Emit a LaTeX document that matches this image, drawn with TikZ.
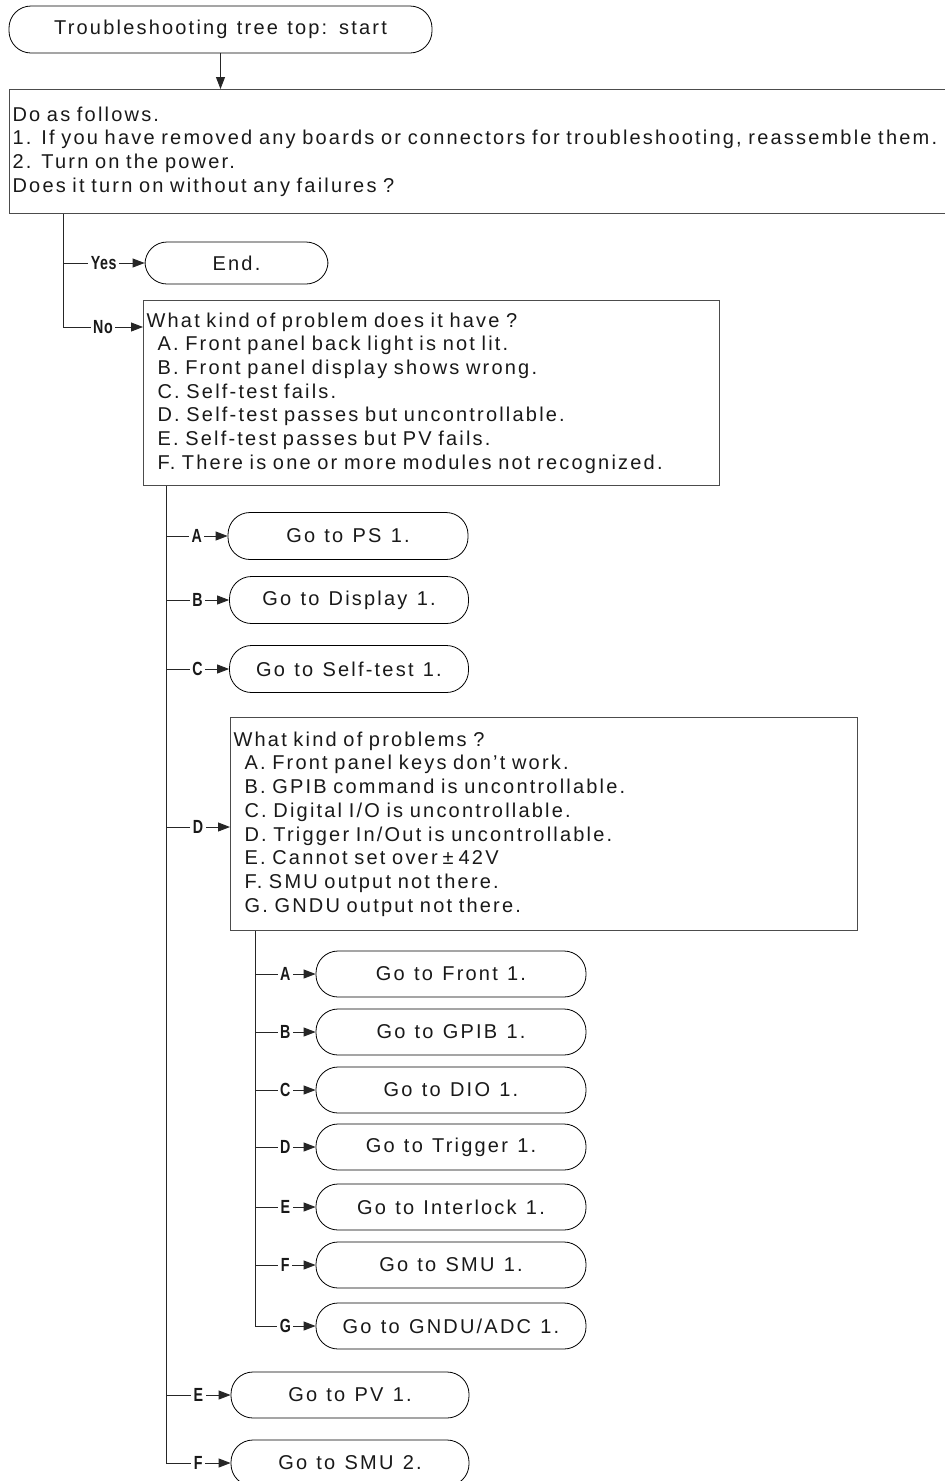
\documentclass[tikz,border=0pt]{standalone}
\usepackage{graphicx}
\usepackage{fontspec}
\setmainfont{Liberation Sans}[LetterSpace=11,WordSpace=1.2]
\newfontfamily\lblfont{Liberation Sans}[LetterSpace=4]
\usetikzlibrary{arrows.meta}
\begin{document}
\begin{tikzpicture}[x=1pt,y=-1pt,
  txt/.style={font=\fontsize{20}{23.7}\selectfont, text=black!90},
  qbox/.style={draw=black!70, line width=1.1pt, rectangle, align=left,
    anchor=north west, inner xsep=3pt, inner ysep=0pt, txt},
  term/.style={draw=black, line width=0.8pt, rectangle, rounded corners=22pt,
    inner sep=0pt, txt},
  conn/.style={draw=black!85, line width=0.9pt},
  arr/.style={conn, -{Triangle[length=12pt,width=9pt]}},
  lbl/.style={fill=white, inner xsep=2.5pt, inner ysep=1pt,
    font=\lblfont\bfseries\fontsize{19}{19}\selectfont, text=black!90}
]
\useasboundingbox (0,0) rectangle (945,1481);
\fill[white] (0,0) rectangle (945,1481);

% start
\node[term, minimum width=423pt, minimum height=47pt] (start) at (220.5,29.5)
  {Troubleshooting tree top: start};

% first question box
\node[qbox, text width=940pt, minimum height=124pt] (q1) at (9,89)
  {Do as follows.\\
   1. If you have removed any boards or connectors for troubleshooting, reassemble them.\\
   2. Turn on the power.\\
   Does it turn on without any failures ?};
\draw[arr] (start.south) -- (start.south |- q1.north);

% End
\node[term, minimum width=183pt, minimum height=42pt] (end) at (236.5,263) {End.};

% second question box
\node[qbox, text width=570pt, minimum height=185pt] (q2) at (143,300)
  {What kind of problem does it have ?\\
   \hspace*{11pt}A. Front panel back light is not lit.\\
   \hspace*{11pt}B. Front panel display shows wrong.\\
   \hspace*{11pt}C. Self-test fails.\\
   \hspace*{11pt}D. Self-test passes but uncontrollable.\\
   \hspace*{11pt}E. Self-test passes but PV fails.\\
   \hspace*{11pt}F. There is one or more modules not recognized.};
\coordinate (q2in) at (143,327);

\coordinate (c1) at (63,0);
\draw[conn] (c1 |- q1.south) -- (c1 |- q2in);
\draw[arr] (c1 |- end.west) -- node[lbl] (lyes) {\scalebox{0.75}[1]{Yes}} (end.west);
\draw[arr] (c1 |- q2in) -- node[lbl] (lno) {\scalebox{0.75}[1]{No}} (q2in);

% level 2 terminators
\node[term, minimum width=240pt, minimum height=47pt] (ps) at (348,536) {Go to PS 1.};
\node[term, minimum width=239pt, minimum height=47pt] (disp) at (349,600) {Go to Display 1.};
\node[term, minimum width=239pt, minimum height=47pt] (self) at (349,669) {Go to Self-test 1.};

% third question box
\node[qbox, text width=621pt, minimum height=213pt] (q3) at (230,717)
  {What kind of problems ?\\
   \hspace*{11pt}A. Front panel keys don't work.\\
   \hspace*{11pt}B. GPIB command is uncontrollable.\\
   \hspace*{11pt}C. Digital I/O is uncontrollable.\\
   \hspace*{11pt}D. Trigger In/Out is uncontrollable.\\
   \hspace*{11pt}E. Cannot set over\hspace{5pt}±\hspace{5pt}42V\\
   \hspace*{11pt}F. SMU output not there.\\
   \hspace*{11pt}G. GNDU output not there.};
\coordinate (q3in) at (230,827);

\node[term, minimum width=238pt, minimum height=46pt] (pv) at (350,1395) {Go to PV 1.};
\node[term, minimum width=238pt, minimum height=46pt] (smu2) at (350,1463) {Go to SMU 2.};

\coordinate (c2) at (166,0);
\draw[conn] (c2 |- q2.south) -- (c2 |- smu2.west);
\draw[arr] (c2 |- ps.west) -- node[lbl] (la) {\scalebox{0.75}[1]{A}} (ps.west);
\draw[arr] (c2 |- disp.west) -- node[lbl] (lb) {\scalebox{0.75}[1]{B}} (disp.west);
\draw[arr] (c2 |- self.west) -- node[lbl] (lc) {\scalebox{0.75}[1]{C}} (self.west);
\draw[arr] (c2 |- q3in) -- node[lbl] (ld) {\scalebox{0.75}[1]{D}} (q3in);
\draw[arr] (c2 |- pv.west) -- node[lbl] (le) {\scalebox{0.75}[1]{E}} (pv.west);
\draw[arr] (c2 |- smu2.west) -- node[lbl] (lf) {\scalebox{0.75}[1]{F}} (smu2.west);

% level 3 terminators
\node[term, minimum width=270pt, minimum height=46pt] (front) at (451,974) {Go to Front 1.};
\node[term, minimum width=270pt, minimum height=46pt] (gpib) at (451,1032) {Go to GPIB 1.};
\node[term, minimum width=270pt, minimum height=46pt] (dio) at (451,1090) {Go to DIO 1.};
\node[term, minimum width=270pt, minimum height=46pt] (trig) at (451,1147) {Go to Trigger 1.};
\node[term, minimum width=270pt, minimum height=46pt] (intl) at (451,1207) {Go to Interlock 1.};
\node[term, minimum width=270pt, minimum height=46pt] (smu1) at (451,1265) {Go to SMU 1.};
\node[term, minimum width=270pt, minimum height=46pt] (gndu) at (451,1326) {Go to GNDU/ADC 1.};

\coordinate (c3) at (255,0);
\draw[conn] (c3 |- q3.south) -- (c3 |- gndu.west);
\draw[arr] (c3 |- front.west) -- node[lbl] (l3a) {\scalebox{0.75}[1]{A}} (front.west);
\draw[arr] (c3 |- gpib.west) -- node[lbl] (l3b) {\scalebox{0.75}[1]{B}} (gpib.west);
\draw[arr] (c3 |- dio.west) -- node[lbl] (l3c) {\scalebox{0.75}[1]{C}} (dio.west);
\draw[arr] (c3 |- trig.west) -- node[lbl] (l3d) {\scalebox{0.75}[1]{D}} (trig.west);
\draw[arr] (c3 |- intl.west) -- node[lbl] (l3e) {\scalebox{0.75}[1]{E}} (intl.west);
\draw[arr] (c3 |- smu1.west) -- node[lbl] (l3f) {\scalebox{0.75}[1]{F}} (smu1.west);
\draw[arr] (c3 |- gndu.west) -- node[lbl] (l3g) {\scalebox{0.75}[1]{G}} (gndu.west);
\end{tikzpicture}
\end{document}
